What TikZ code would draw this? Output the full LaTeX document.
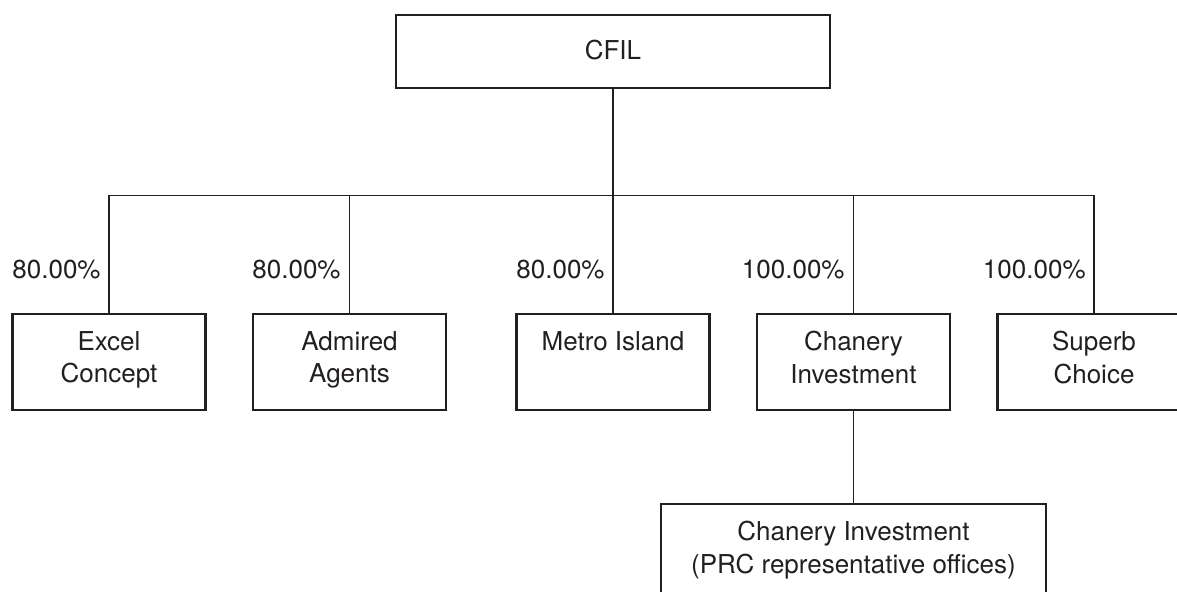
\documentclass[tikz,border=0pt]{standalone}
\usepackage{fontspec}
\setmainfont{TeX Gyre Heros}
\usepackage{tikz}
\usetikzlibrary{positioning}
\definecolor{ink}{HTML}{231F20}
\newcommand{\boxtopstrut}{\rule{0pt}{13.3pt}}
\newcommand{\boxbotstrut}{\rule[-4.95pt]{0pt}{0pt}}

\begin{document}
\begin{tikzpicture}[x=0.5pt, y=-0.5pt, font=\fontsize{13}{16.25}\selectfont, every node/.style={text=ink},
  box/.style={rectangle, draw=ink, line width=1.1pt, align=center, minimum width=96.5pt, minimum height=48pt, inner sep=0pt, execute at begin node=\boxtopstrut, execute at end node=\boxbotstrut},
  pct/.style={anchor=east, inner sep=0pt},
  link/.style={draw=ink, line width=0.55pt}]

    \tikzset{bus/.style={to path={-- ++(0,-53pt) -| (\tikztotarget)}}}

    \useasboundingbox (0,0) rectangle (1177,592);

    \node[box, minimum width=217pt, minimum height=36.5pt] (cfil) at (613,51.5) {CFIL};

    \node[box] (excel) at (109,362) {Excel\\Concept};
    \node[box] (admired) at (349.5,362) {Admired\\Agents};
    \node[box] (metro) at (613,362) {Metro Island\\};
    \node[box] (chanery) at (853.5,362) {Chanery\\Investment};
    \node[box] (superb) at (1094,362) {Superb\\Choice};

    \node[box, minimum width=192.5pt, below=46pt of chanery] (prc) {Chanery Investment\\(PRC representative offices)};

    \node[pct] (pexcel) at (101,270) {80.00\%};
    \node[pct] (padmired) at (341,270) {80.00\%};
    \node[pct] (pmetro) at (605,270) {80.00\%};
    \node[pct] (pchanery) at (845,270) {100.00\%};
    \node[pct] (psuperb) at (1086,270) {100.00\%};

    \draw[link, bus] (cfil.south) to (excel.north);
    \draw[link, bus] (cfil.south) to (admired.north);
    \draw[link, bus] (cfil.south) to (metro.north);
    \draw[link, bus] (cfil.south) to (chanery.north);
    \draw[link, bus] (cfil.south) to (superb.north);
    \draw[link] (chanery.south) -- (prc.north);

\end{tikzpicture}
\end{document}
